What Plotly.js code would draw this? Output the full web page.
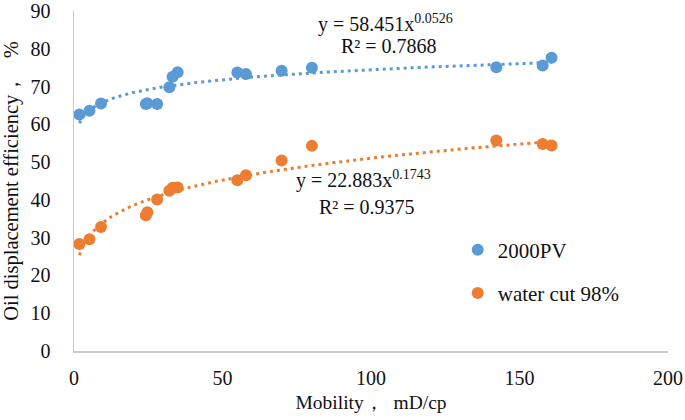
<!DOCTYPE html>
<html>
<head>
<meta charset="utf-8">
<script src="https://cdn.plot.ly/plotly-3.0.1.min.js"></script>
<style>html,body{margin:0;padding:0;background:#fff}#chart{width:685px;height:420px}</style>
</head>
<body>
<div id="chart"></div>
<script>
// Data
const mobility = [1.8, 5.2, 9.1, 24.2, 24.7, 28.0, 32.1, 33.2, 34.9, 55.0, 57.9, 69.9, 80.1, 142.2, 157.8, 160.8];
const eff2000PV = [62.6, 63.6, 65.5, 65.4, 65.6, 65.4, 69.8, 72.6, 73.8, 73.7, 73.3, 74.2, 75.0, 75.1, 75.6, 77.6];
const effWaterCut = [28.3, 29.6, 32.8, 35.9, 36.7, 40.1, 42.4, 43.2, 43.3, 45.2, 46.5, 50.4, 54.3, 55.7, 54.8, 54.4];
const seriesNames = ["2000PV", "water cut 98%"];
// Power trendline coefficients shown on the chart: y = a * x^b
const fitA = [58.451, 22.883];
const fitB = [0.0526, 0.1743];
const fitR2 = ["0.7868", "0.9375"];

const colors = ["#5B9BD5", "#ED7D31"];
const font = "Liberation Serif, Times New Roman, serif";

function trend(a, b) {
  const xs = [], ys = [];
  const x0 = Math.min(...mobility), x1 = Math.max(...mobility);
  const n = 120;
  for (let i = 0; i <= n; i++) {
    const x = x0 + (x1 - x0) * i / n;
    xs.push(x); ys.push(a * Math.pow(x, b));
  }
  return {xs, ys};
}
const t0 = trend(fitA[0], fitB[0]);
const t1 = trend(fitA[1], fitB[1]);

const traces = [
  {x: t0.xs, y: t0.ys, mode: "lines", line: {color: colors[0], width: 3, dash: "3px,4px"}, showlegend: false, hoverinfo: "skip"},
  {x: t1.xs, y: t1.ys, mode: "lines", line: {color: colors[1], width: 3, dash: "3px,4px"}, showlegend: false, hoverinfo: "skip"},
  {x: mobility, y: eff2000PV, name: seriesNames[0], mode: "markers", marker: {color: colors[0], size: 12}, legendgroup: "a"},
  {x: mobility, y: effWaterCut, name: seriesNames[1], mode: "markers", marker: {color: colors[1], size: 12}, legendgroup: "b"}
];

const layout = {
  width: 685, height: 420,
  margin: {l: 74, r: 17, t: 11, b: 69},
  paper_bgcolor: "#fff", plot_bgcolor: "#fff",
  font: {family: font, size: 20, color: "#111"},
  xaxis: {
    range: [0, 200], tickvals: [0, 50, 100, 150, 200],
    showgrid: false, zeroline: false, showline: true, linecolor: "#C9C9C9", linewidth: 1.5,
    ticks: "", ticklabelstandoff: 8, tickfont: {family: font, size: 20},
    title: {text: "Mobility，\u00A0 mD/cp", font: {family: font, size: 19.5}, standoff: 8}
  },
  yaxis: {
    range: [0, 90], tickvals: [0, 10, 20, 30, 40, 50, 60, 70, 80, 90],
    showgrid: false, zeroline: false, showline: true, linecolor: "#C9C9C9", linewidth: 1.5,
    ticks: "", ticklabelstandoff: 18, tickfont: {family: font, size: 20},
    title: {text: "Oil displacement efficiency，\u00A0\u00A0\u00A0%", font: {family: font, size: 20.5}, standoff: 6}
  },
  showlegend: true,
  legend: {x: 0.646, y: 0.357, xanchor: "left", yanchor: "top", bgcolor: "rgba(0,0,0,0)",
           tracegroupgap: 13, font: {family: font, size: 21}},
  annotations: [
    {xref: "x", yref: "y", x: 105, y: 86.8, showarrow: false, text: "y = " + fitA[0] + "x<sup>" + fitB[0] + "</sup>", font: {family: font, size: 20}},
    {xref: "x", yref: "y", x: 106, y: 80.7, showarrow: false, text: "R² = " + fitR2[0], font: {family: font, size: 20}},
    {xref: "x", yref: "y", x: 97.6, y: 45.4, showarrow: false, text: "y = " + fitA[1] + "x<sup>" + fitB[1] + "</sup>", font: {family: font, size: 20}},
    {xref: "x", yref: "y", x: 98.7, y: 38.0, showarrow: false, text: "R² = " + fitR2[1], font: {family: font, size: 20}}
  ]
};

Plotly.newPlot("chart", traces, layout, {displayModeBar: false, staticPlot: true});
</script>
</body>
</html>
